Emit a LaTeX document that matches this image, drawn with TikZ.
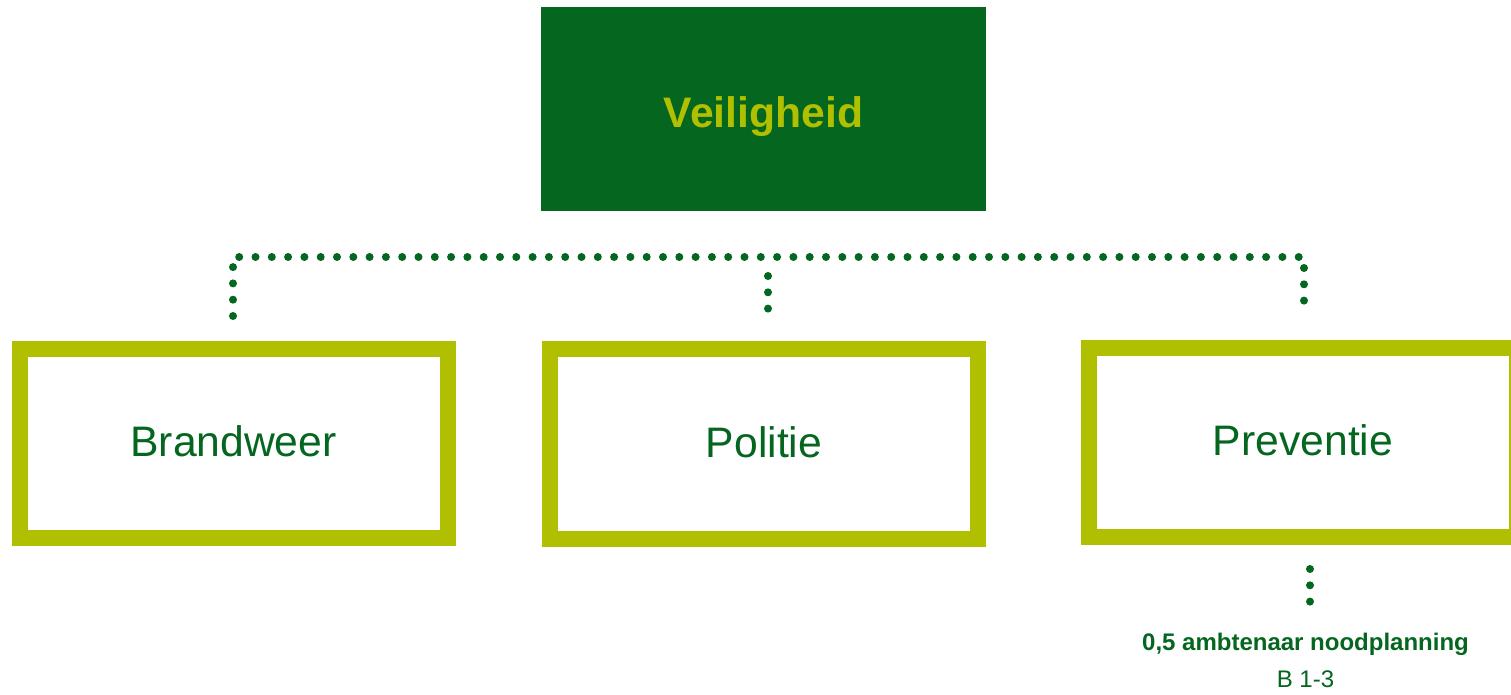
\documentclass[tikz,border=0pt]{standalone}
\usepackage{fontspec}
\setmainfont{Liberation Sans}
\definecolor{dkgreen}{RGB}{4,102,31}
\definecolor{limegr}{RGB}{176,191,0}
\begin{document}
\begin{tikzpicture}[x=0.75pt,y=-0.75pt,
  topbox/.style={fill=dkgreen, minimum width=333.75pt, minimum height=153pt, inner sep=0pt, outer sep=0pt,
    text=limegr, font=\bfseries\fontsize{32}{38}\selectfont, text height=28pt, text depth=0pt},
  unitbox/.style={draw=limegr, line width=12pt, fill=white, minimum width=321pt, minimum height=141.75pt,
    inner sep=0pt, outer sep=0pt, text=dkgreen, font=\fontsize{32}{38}\selectfont, text height=20pt, text depth=0pt},
  dotline/.style={draw=dkgreen, line width=6pt, line cap=round, dash pattern=on 0pt off 12.225pt},
  note/.style={text=dkgreen, font=\fontsize{18}{22}\selectfont, inner sep=0pt, anchor=base}]
\useasboundingbox (0,0) rectangle (1511,695);
\node[topbox] (veil) at (763.5,109) {Veiligheid};
\node[unitbox] (brand) at (233.5,443.5) {Brandweer};
\node[unitbox] (pol) at (764,444) {Politie};
\node[unitbox] (prev) at (1303,442.5) {Preventie};
\node[note, font=\bfseries\fontsize{18}{22}\selectfont] (staff) at (1305.5,650) {0,5 ambtenaar noodplanning};
\node[note] (code) at (1305.5,687) {B 1-3};
% connector coordinates
\coordinate (bl) at (233,316);
\coordinate (cl) at (233,257);
\coordinate (cr) at (1304,257);
\coordinate (br) at (1304,302);
\coordinate (mt) at (768,276);
\coordinate (mb) at (768,309);
\coordinate (st) at (1310,569);
\coordinate (sb) at (1310,602);
\draw[dotline] (bl) -- (cl) -- (cr) -- (br);
\draw[dotline] (mt) -- (mb);
\draw[dotline] (st) -- (sb);
\end{tikzpicture}
\end{document}
